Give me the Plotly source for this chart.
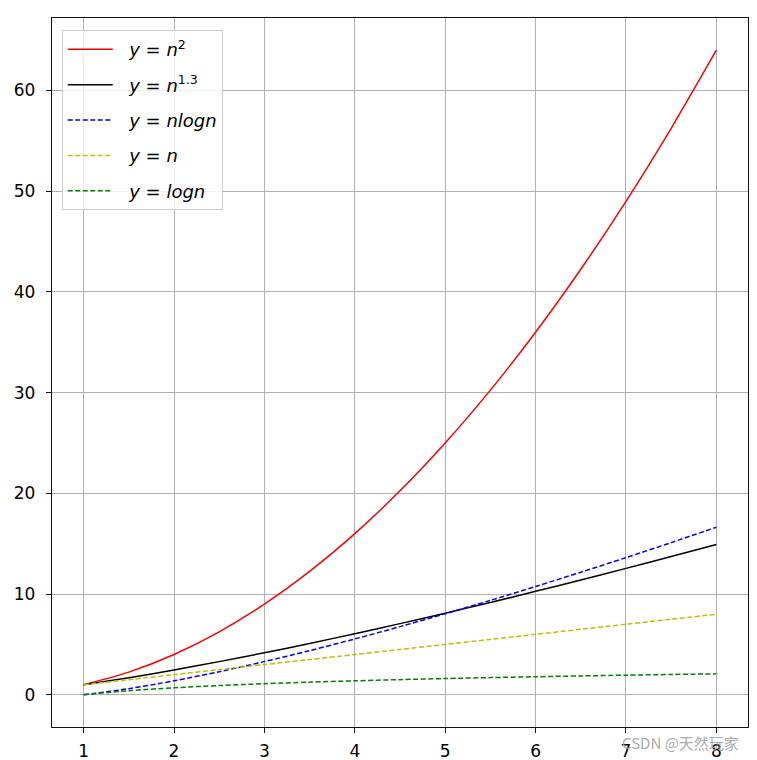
import plotly.graph_objects as go

n = [1, 1.5, 2, 2.5, 3, 3.5, 4, 4.5, 5, 5.5, 6, 6.5, 7, 7.5, 8]
y_sq = [1, 2.25, 4, 6.25, 9, 12.25, 16, 20.25, 25, 30.25, 36, 42.25, 49, 56.25, 64]
y_13 = [1, 1.694, 2.462, 3.291, 4.171, 5.097, 6.063, 7.066, 8.103, 9.172, 10.27, 11.40, 12.55, 13.73, 14.93]
y_nlogn = [0, 0.608, 1.386, 2.291, 3.296, 4.385, 5.545, 6.768, 8.047, 9.376, 10.75, 12.17, 13.62, 15.11, 16.64]
y_n = [1, 1.5, 2, 2.5, 3, 3.5, 4, 4.5, 5, 5.5, 6, 6.5, 7, 7.5, 8]
y_logn = [0, 0.405, 0.693, 0.916, 1.099, 1.253, 1.386, 1.504, 1.609, 1.705, 1.792, 1.872, 1.946, 2.015, 2.079]

series = [
    ("&nbsp;&nbsp;<i>y</i> = <i>n</i><sup>2</sup>", y_sq, "#ff0000", "solid"),
    ("&nbsp;&nbsp;<i>y</i> = <i>n</i><sup>1.3</sup>", y_13, "#000000", "solid"),
    ("&nbsp;&nbsp;<i>y</i> = <i>nlogn</i>", y_nlogn, "#0000ff", "5px,2.5px"),
    ("&nbsp;&nbsp;<i>y</i> = <i>n</i>", y_n, "#bfbf00", "5px,2.5px"),
    ("&nbsp;&nbsp;<i>y</i> = <i>logn</i>", y_logn, "#008000", "5px,2.5px"),
]

fig = go.Figure()
for i, (name, ys, color, dash) in enumerate(series):
    fig.add_trace(go.Scatter(
        x=n, y=ys, mode="lines", name=name, legendgroup=f"g{i}",
        line=dict(color=color, width=1.5, dash=dash, shape="spline", smoothing=0.8),
    ))

axis_common = dict(
    showline=True, mirror=True, linecolor="#111111", linewidth=1.3,
    ticks="outside", ticklen=5, tickcolor="#111111", tickwidth=1.3,
    showgrid=True, gridcolor="#b0b0b0", gridwidth=1, zeroline=False,
    automargin=False,
    tickfont=dict(family="DejaVu Sans", size=17, color="black"),
)

fig.update_layout(
    width=757, height=760,
    margin=dict(l=52, r=9, t=18, b=33),
    paper_bgcolor="white", plot_bgcolor="white",
    xaxis=dict(range=[0.65, 8.35], tickvals=[1, 2, 3, 4, 5, 6, 7, 8],
               ticklabelstandoff=3, **axis_common),
    yaxis=dict(range=[-3.2, 67.2], tickvals=[0, 10, 20, 30, 40, 50, 60],
               ticklabelstandoff=7, **axis_common),
    legend=dict(
        x=0.014, y=0.983, xanchor="left", yanchor="top",
        bgcolor="rgba(255,255,255,0.8)", bordercolor="#cccccc", borderwidth=1,
        font=dict(family="DejaVu Sans", size=18, color="black"),
        tracegroupgap=9, itemwidth=45,
    ),
    annotations=[dict(
        text="CSDN @天然玩家", showarrow=False,
        xref="paper", yref="paper", x=(741 - 52) / 696, y=-(742 - 727) / 709,
        xanchor="right", yanchor="middle",
        font=dict(family="Noto Sans CJK SC", size=15, color="rgba(160,160,160,0.9)"),
    )],
)

fig.write_html("out.html")
